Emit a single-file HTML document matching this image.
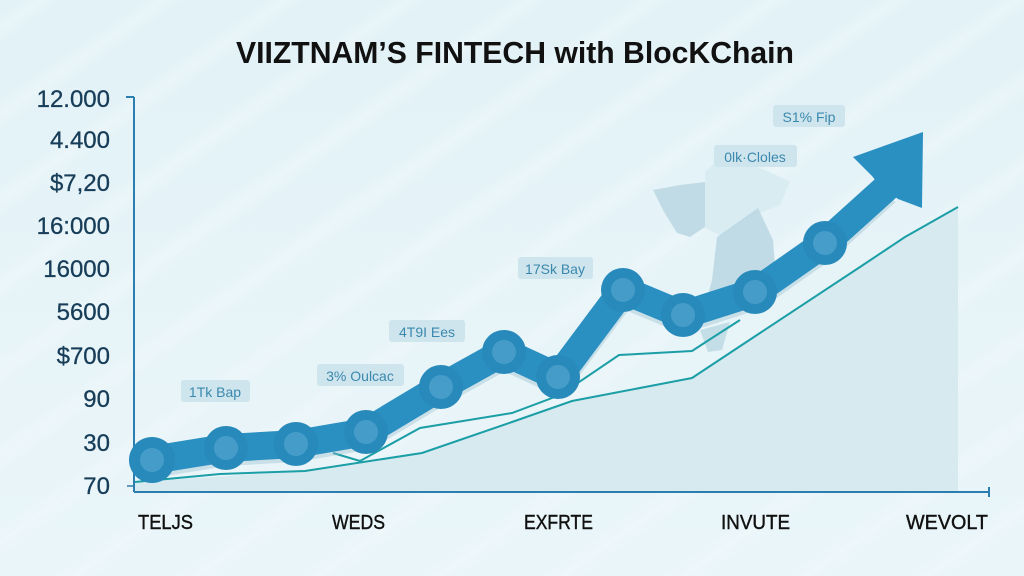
<!DOCTYPE html>
<html><head><meta charset="utf-8"><style>
html,body{margin:0;padding:0;}
body{width:1024px;height:576px;overflow:hidden;position:relative;
background:linear-gradient(180deg,#e2f2f7 0%,#e7f4f8 60%,#e9f5f9 100%);
font-family:"Liberation Sans","DejaVu Sans",sans-serif;}
.stripes{position:absolute;left:0;top:0;width:1024px;height:576px;
background:repeating-linear-gradient(-35deg,rgba(255,255,255,0.0) 0px,rgba(255,255,255,0.0) 40px,rgba(255,255,255,0.22) 55px,rgba(255,255,255,0.0) 70px);}
svg{position:absolute;left:0;top:0;}
</style></head><body>
<div class="stripes"></div>
<svg width="1024" height="576" viewBox="0 0 1024 576">
  <!-- title -->
  <text x="236" y="63" textLength="558" lengthAdjust="spacingAndGlyphs" font-family="Liberation Sans, sans-serif" font-size="31" font-weight="bold" fill="#111">VIIZTNAM’S FINTECH  with BlocKChain</text>

  <!-- y labels -->
  <g font-family="Liberation Sans, sans-serif" font-size="24" fill="#173d58" text-anchor="end" stroke="#173d58" stroke-width="0.3">
    <text x="110" y="107">12.000</text>
    <text x="110" y="148">4.400</text>
    <text x="110" y="191">$7,20</text>
    <text x="110" y="234">16:000</text>
    <text x="110" y="277">16000</text>
    <text x="110" y="320">5600</text>
    <text x="110" y="364">$700</text>
    <text x="110" y="407">90</text>
    <text x="110" y="451">30</text>
    <text x="110" y="494">70</text>
  </g>

  <!-- map shapes -->
  <polygon points="653,190 680,185 705,182 705,227 690,237 677,233 663,210" fill="#bcd8e3" opacity="0.9"/>
  <polygon points="705,172 714,164 742,162 770,172 790,182 780,205 762,212 740,222 722,236 705,228" fill="#d6ebf1" opacity="0.9"/>
  <polygon points="717,237 758,208 773,240 777,292 745,302 722,312 706,302 712,280" fill="#bcd8e3" opacity="0.9"/>
  <polygon points="700,330 730,322 722,350 708,352" fill="#bcd8e3" opacity="0.8"/>

  <!-- area under lower line -->
  <polygon points="135,482 305,471 422,453 512,422 572,401 692,378 760,333 860,267 905,237 958,207 958,492 135,492" fill="#d4e8ee" opacity="0.85"/>

  <!-- thin lines -->
  <polyline points="135,482 220,474 305,471 422,453 512,422 572,401 692,378 760,333 860,267 905,237 958,207" fill="none" stroke="#1b9ea6" stroke-width="2"/>
  <polyline points="333,453 360,461 420,428 512,413 560,395 619,355 692,351 712,338 740,320" fill="none" stroke="#1b9ea6" stroke-width="2"/>

  <!-- axes -->
  <line x1="134" y1="97" x2="134" y2="492" stroke="#2a7fb0" stroke-width="2"/>
  <line x1="126" y1="97" x2="134" y2="97" stroke="#2a7fb0" stroke-width="2"/>
  <line x1="127" y1="486" x2="134" y2="486" stroke="#2a7fb0" stroke-width="1.5"/>
  <line x1="134" y1="492" x2="989" y2="492" stroke="#2a7fb0" stroke-width="2"/>
  <line x1="989" y1="487" x2="989" y2="497" stroke="#2a7fb0" stroke-width="2"/>

  <!-- thick line shadow -->
  <polyline points="152,464 226,452 296,448 366,436 441,391 504,356 558,381 623,294 683,319 755,296 825,247 886,192" fill="none" stroke="#8fb8c9" stroke-width="28" stroke-linejoin="round" opacity="0.35"/>
  <!-- thick line -->
  <polyline points="152,460 226,448 296,444 366,432 441,387 504,352 558,377 623,290 683,315 755,292 825,243 886,188" fill="none" stroke="#2a8fc1" stroke-width="28" stroke-linejoin="round" stroke-linecap="round"/>
  <!-- arrowhead -->
  <polygon points="923,132 853,157 872,176 880,186 898,199 922,208" fill="#2a8fc1"/>

  <!-- markers -->
  <g fill="#2889bb">
    <circle cx="152" cy="460" r="23"/>
    <circle cx="226" cy="448" r="22"/>
    <circle cx="296" cy="444" r="22"/>
    <circle cx="366" cy="432" r="22"/>
    <circle cx="441" cy="387" r="22"/>
    <circle cx="504" cy="352" r="22"/>
    <circle cx="558" cy="377" r="22"/>
    <circle cx="623" cy="290" r="22"/>
    <circle cx="683" cy="315" r="22"/>
    <circle cx="755" cy="292" r="22"/>
    <circle cx="825" cy="243" r="22"/>
  </g>
  <g fill="#5aaad2" opacity="0.6">
    <circle cx="152" cy="460" r="12"/>
    <circle cx="226" cy="448" r="12"/>
    <circle cx="296" cy="444" r="12"/>
    <circle cx="366" cy="432" r="12"/>
    <circle cx="441" cy="387" r="12"/>
    <circle cx="504" cy="352" r="12"/>
    <circle cx="558" cy="377" r="12"/>
    <circle cx="623" cy="290" r="12"/>
    <circle cx="683" cy="315" r="12"/>
    <circle cx="755" cy="292" r="12"/>
    <circle cx="825" cy="243" r="12"/>
  </g>

  <!-- annotation labels -->
  <g font-family="Liberation Sans, sans-serif" font-size="14" fill="#3a88ad" text-anchor="middle">
    <rect x="181" y="380" width="69" height="22" rx="3" fill="#cfe5ee"/>
    <text x="215" y="397">1Tk Bap</text>
    <rect x="317" y="364" width="87" height="22" rx="3" fill="#cfe5ee"/>
    <text x="360" y="381">3% Oulcac</text>
    <rect x="389" y="320" width="76" height="22" rx="3" fill="#cfe5ee"/>
    <text x="427" y="337">4T9I Ees</text>
    <rect x="518" y="257" width="75" height="22" rx="3" fill="#cfe5ee"/>
    <text x="555" y="274">17Sk Bay</text>
    <rect x="714" y="145" width="83" height="22" rx="3" fill="#cfe5ee"/>
    <text x="755" y="162">0lk·Cloles</text>
    <rect x="773" y="105" width="72" height="22" rx="3" fill="#cfe5ee"/>
    <text x="809" y="122">S1% Fip</text>
  </g>

  <!-- x labels -->
  <g font-family="Liberation Sans, sans-serif" font-size="20" fill="#111" stroke="#111" stroke-width="0.4" lengthAdjust="spacingAndGlyphs">
    <text x="138" y="529" textLength="55" lengthAdjust="spacingAndGlyphs">TELJS</text>
    <text x="332" y="529" textLength="53" lengthAdjust="spacingAndGlyphs">WEDS</text>
    <text x="524" y="529" textLength="69" lengthAdjust="spacingAndGlyphs">EXFRTE</text>
    <text x="721" y="529" textLength="69" lengthAdjust="spacingAndGlyphs">INVUTE</text>
    <text x="906" y="529" textLength="82" lengthAdjust="spacingAndGlyphs">WEVOLT</text>
  </g>
</svg>
</body></html>
